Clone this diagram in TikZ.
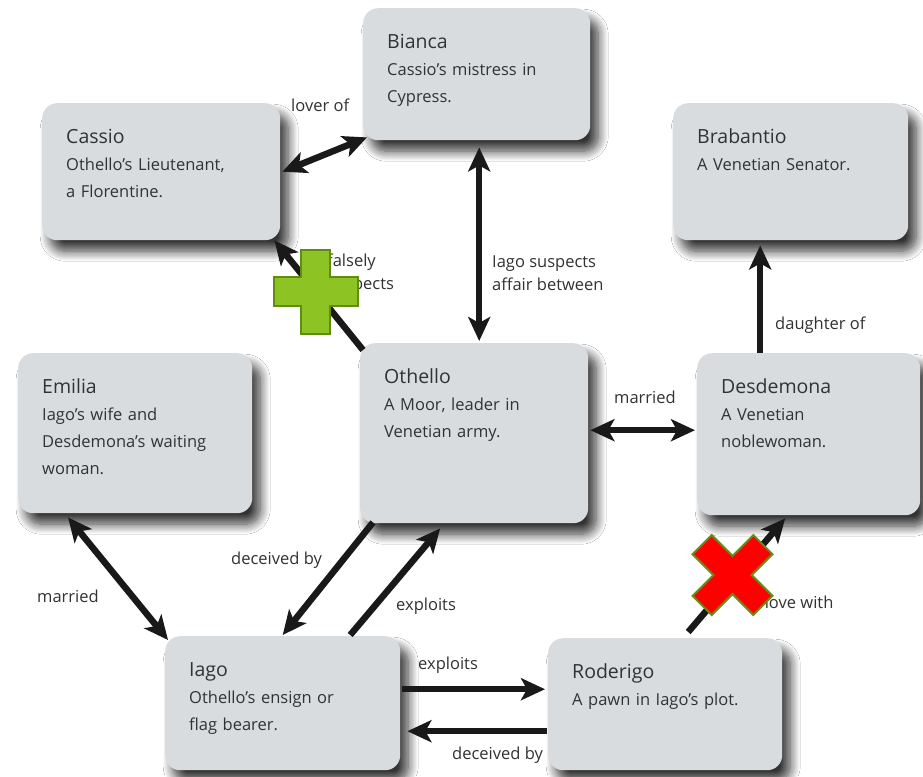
\documentclass[tikz,border=0pt]{standalone}
\usepackage{fontspec}
\setmainfont{Open Sans}
\usepackage{tikz}
\usetikzlibrary{arrows.meta, positioning, shadows.blur}
\definecolor{cardgray}{RGB}{217,220,223}
\definecolor{inkgray}{RGB}{50,50,50}
\definecolor{arrowink}{RGB}{25,25,25}
\definecolor{plusgreen}{RGB}{141,196,36}
\definecolor{plusedge}{RGB}{96,140,18}
\definecolor{crossred}{RGB}{255,0,0}
\definecolor{crossedge}{RGB}{104,140,22}
\newcommand{\who}[1]{{\fontsize{19.5}{27}\selectfont #1}}

\begin{document}
\begin{tikzpicture}[
  x=1pt, y=-1pt,
  every node/.style={font=\fontsize{16.5}{27}\selectfont, text=inkgray},
  card/.style={
    fill=cardgray, rounded corners=15pt, anchor=north west,
    align=left, inner xsep=24pt, inner ysep=16pt, text height=24pt,
    blur shadow={shadow xshift=8pt, shadow yshift=-11pt,
      shadow blur radius=10pt, shadow blur steps=12, shadow opacity=80}
  },
  link/.style={-{Stealth[length=24pt, width=22pt, inset=6pt]},
    line width=6.5pt, draw=arrowink},
  both/.style={link, {Stealth[length=24pt, width=22pt, inset=6pt]}-{Stealth[length=24pt, width=22pt, inset=6pt]}},
  lbl/.style={font=\fontsize{16.5}{23}\selectfont, anchor=west,
    align=left, inner sep=0pt},
  plusmark/.style={fill=plusgreen, draw=plusedge, line width=2pt},
  crossmark/.style={fill=crossred, draw=crossedge, line width=2pt}
]
\path[fill=white, use as bounding box] (0,0) rectangle (923,776);

  % Characters
\node[card, text width=179pt, text depth=76pt] (bianca) at (363,8) {\who{Bianca}\\ Cassio’s mistress in\\ Cypress.};
\node[card, text width=190pt, text depth=81pt] (cassio) at (42,103) {\who{Cassio}\\ Othello’s Lieutenant,\\ a Florentine.};
\node[card, text width=187pt, text depth=81pt] (brabantio) at (673,103) {\who{Brabantio}\\ A Venetian Senator.};
\node[card, text width=186pt, text depth=104pt] (emilia) at (18,353) {\who{Emilia}\\ Iago’s wife and\\ Desdemona’s waiting\\ woman.};
\node[card, text width=180pt, text depth=124pt] (othello) at (360,343) {\who{Othello}\\ A Moor, leader in\\ Venetian army.};
\node[card, text width=175pt, text depth=106pt] (desdemona) at (697,353) {\who{Desdemona}\\ A Venetian\\ noblewoman.};
\node[card, text width=187pt, text depth=78pt] (iago) at (165,636) {\who{Iago}\\ Othello’s ensign or\\ flag bearer.};
\node[card, text width=186pt, text depth=76pt] (roderigo) at (548,638) {\who{Roderigo}\\ A pawn in Iago’s plot.};

  % Relations
  \draw[both] ([shift={(2,0)}]cassio.east) -- ([shift={(4,-3)}]bianca.south west);
  \draw[both] ([shift={(2.5,7)}]bianca.south) -- ([shift={(5,-2)}]othello.north);
  \draw[link] ([shift={(3,7)}]othello.north west) -- ([shift={(-6,0)}]cassio.south east);
  \draw[link] ([shift={(-48.5,0)}]desdemona.north) -- ([shift={(-30.5,5)}]brabantio.south);
  \draw[both] ([shift={(2,-3)}]othello.east) -- ([shift={(-2,-4)}]desdemona.west);
  \draw[both] ([shift={(50,4)}]emilia.south west) -- ([shift={(3,4)}]iago.north west);
  \draw[link] ([shift={(13,-1)}]othello.south west) -- ([shift={(0,-1)}]iago.north);
  \draw[link] ([shift={(67.5,-1)}]iago.north) -- ([shift={(-34,5)}]othello.south);
  \draw[link] ([shift={(2,-14)}]iago.east) -- ([shift={(-3,-15)}]roderigo.west);
  \draw[link] ([shift={(-1,27)}]roderigo.west) -- ([shift={(7,28)}]iago.east);
  \draw[link] ([shift={(23,-6)}]roderigo.north) -- ([shift={(-23.5,3)}]desdemona.south);

  % Labels
\node[lbl] (loverof) at (291,105) {lover of};
\node[lbl] (affair) at (492,273.5) {Iago suspects\\ affair between};
\node[lbl] (suspects) at (327,273.5) {falsely\\ suspects};
\node[lbl] (daughter) at (775,325) {daughter of};
\node[lbl] (marriedod) at (614,397) {married};
\node[lbl] (marriedei) at (37,596) {married};
\node[lbl] (deceivedoi) at (231,560) {deceived by};
\node[lbl] (exploitsio) at (396,606) {exploits};
\node[lbl] (exploitsir) at (418,665) {exploits};
\node[lbl] (deceivedri) at (452,755) {deceived by};
\node[lbl] (inlove) at (746,602) {in love with};

  % Marks
  \draw[plusmark, shift={(315.5,291.5)}] (-14.5,-42) -- (14.5,-42) -- (14.5,-14.5) -- (42,-14.5) -- (42,14.5) -- (14.5,14.5) -- (14.5,42) -- (-14.5,42) -- (-14.5,14.5) -- (-42,14.5) -- (-42,-14.5) -- (-14.5,-14.5) -- cycle;
  \draw[crossmark, shift={(732.5,575)}, rotate=45] (-13.5,-43) -- (13.5,-43) -- (13.5,-13.5) -- (43,-13.5) -- (43,13.5) -- (13.5,13.5) -- (13.5,43) -- (-13.5,43) -- (-13.5,13.5) -- (-43,13.5) -- (-43,-13.5) -- (-13.5,-13.5) -- cycle;

\end{tikzpicture}
\end{document}
